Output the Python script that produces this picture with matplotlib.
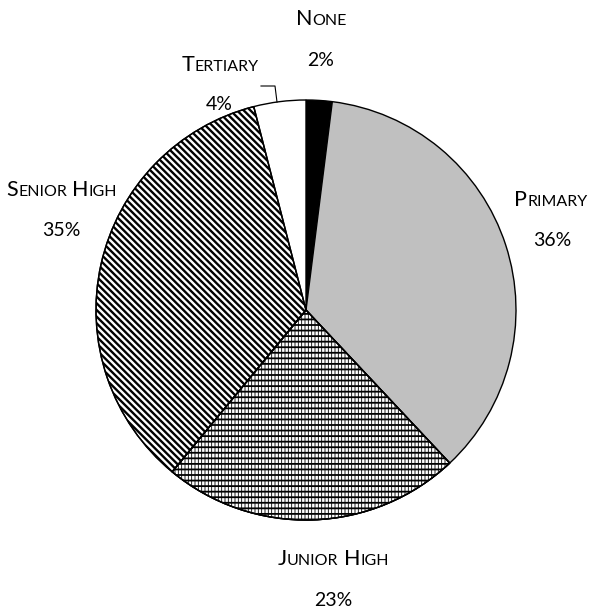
import copy

import matplotlib

matplotlib.use("Agg")
import matplotlib.pyplot as plt  # noqa: E402
from matplotlib.offsetbox import AnnotationBbox, HPacker, TextArea  # noqa: E402

categories = ["None", "Primary", "Junior High", "Senior High", "Tertiary"]
shares = [2, 36, 23, 35, 4]

colors = ["black", "#c0c0c0", "white", "white", "white"]
# (pattern, hatch linewidth) layers per wedge
hatches = [[], [], [("|||||", 0.6), ("---", 1.3)], [("\\\\\\\\\\", 1.7)], []]

# label centres in pixel coords (top-left origin): (name, pct)
label_pos = {
    "None": ((321, 19), (321, 61)),
    "Primary": ((551, 200), (552, 240)),
    "Junior High": ((333, 559), (333, 600)),
    "Senior High": ((62, 190), (61, 231)),
    "Tertiary": ((220, 65), (219, 105)),
}

W, H = 591, 608
FONT = "Lato"


def py(y):
    return H - y


def smallcaps(ax, xy, text, big=15.5, small=11.5):
    runs = []
    for i, word in enumerate(text.split(" ")):
        if i:
            runs.append(TextArea(" ", textprops=dict(fontsize=big, family=FONT)))
        runs.append(TextArea(word[0].upper(), textprops=dict(fontsize=big, family=FONT)))
        if len(word) > 1:
            runs.append(TextArea(word[1:].upper(), textprops=dict(fontsize=small, family=FONT)))
    box = HPacker(children=runs, align="baseline", pad=0, sep=0)
    ab = AnnotationBbox(box, (xy[0], py(xy[1])), xycoords="data", frameon=False,
                        box_alignment=(0.5, 0.5), pad=0)
    ax.add_artist(ab)


fig = plt.figure(figsize=(W / 100, H / 100), dpi=100)
ax = fig.add_axes([0, 0, 1, 1])

wedges, _ = ax.pie(shares, colors=colors, startangle=90, counterclock=False,
                   center=(306, py(310)), radius=210,
                   wedgeprops=dict(edgecolor="black", linewidth=1.0))
for w, layers in zip(wedges, hatches):
    for pat, lw in layers:
        layer = copy.copy(w)
        layer.set_facecolor("none")
        layer.set_hatch(pat)
        layer.set_hatch_linewidth(lw)
        layer.set_zorder(w.get_zorder() + 0.1)
        ax.add_patch(layer)

ax.set_xlim(0, W)
ax.set_ylim(0, H)
ax.set_aspect("auto")
ax.axis("off")

for cat, val in zip(categories, shares):
    name_xy, pct_xy = label_pos[cat]
    smallcaps(ax, name_xy, cat)
    ax.text(pct_xy[0], py(pct_xy[1]), f"{val}%", ha="center", va="center",
            fontsize=14, family=FONT)

# leader line for the tertiary label
ax.plot([261, 275, 277], [py(86), py(86), py(102)], color="black", lw=0.8)

fig.savefig("out.png", dpi=100)
plt.close(fig)
